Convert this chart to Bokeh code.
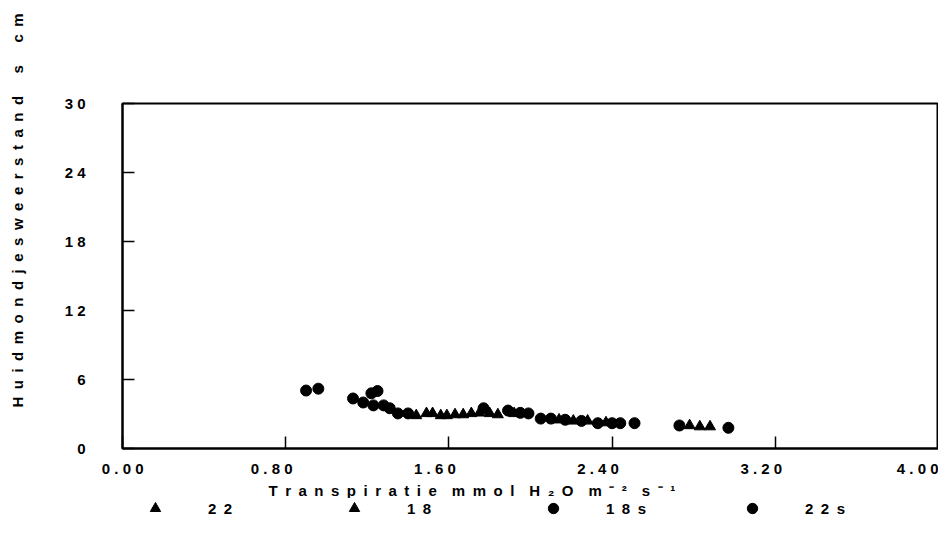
from bokeh.plotting import figure
from bokeh.layouts import column, row
from bokeh.models import (Range1d, FixedTicker, LinearAxis, Title, Label,
                          Legend, LegendItem)
from bokeh.embed import file_html
from bokeh.resources import INLINE
import math

# ---------------- data ----------------
x_ticks = [0.0, 0.8, 1.6, 2.4, 3.2, 4.0]
x_tick_labels = ["0.00", "0.80", "1.60", "2.40", "3.20", "4.00"]
y_ticks = [0, 6, 12, 18, 24, 30]
y_tick_labels = ["0", "6", "12", "18", "24", "30"]

series_names = ["22", "18", "18s", "22s"]
series_markers = ["triangle", "triangle", "circle", "circle"]

x_22 = [1.44, 1.52, 1.59, 1.67, 1.75, 1.84, 2.14, 2.28, 2.78, 2.88]
y_22 = [2.87, 3.05, 2.87, 2.95, 3.10, 2.95, 2.50, 2.40, 2.00, 1.90]

x_18 = [1.49, 1.56, 1.63, 1.71, 1.80, 1.92, 2.21, 2.37, 2.83]
y_18 = [3.05, 2.87, 2.95, 3.05, 3.05, 3.05, 2.40, 2.25, 1.90]

x_18s = [0.90, 1.13, 1.25, 1.28, 1.35, 1.77, 1.95, 2.05, 2.17, 2.33, 2.44, 2.73]
y_18s = [5.04, 4.35, 5.00, 3.75, 3.05, 3.50, 3.10, 2.60, 2.50, 2.20, 2.20, 2.00]

x_22s = [0.96, 1.18, 1.22, 1.23, 1.31, 1.40, 1.89, 1.99, 2.10, 2.25, 2.40, 2.51, 2.97]
y_22s = [5.20, 4.00, 4.80, 3.75, 3.50, 3.05, 3.30, 3.05, 2.60, 2.40, 2.20, 2.20, 1.80]

x_title = "Transpiratie mmol H\u2082O m\u207b\u00b2 s\u207b\u00b9"
y_title = "Huidmondjesweerstand s cm"

FONT = "Liberation Sans"
FS = "15px"


def spaced(s, gap=" ", word_gap=3):
    # imitate the wide letter spacing of the original print
    words = s.split(" ")
    return (gap * word_gap).join(gap.join(w) for w in words)


LEFT_W = 30     # strip holding the vertical axis title
TOTAL_H = 538

# ---------------- main figure ----------------
p = figure(frame_width=816, frame_height=345, output_backend="svg", toolbar_location=None,
           x_range=Range1d(0, 4), y_range=Range1d(0, 30),
           min_border_left=122 - LEFT_W, min_border_right=0, min_border_top=103,
           min_border_bottom=0)
p.background_fill_color = "white"
p.border_fill_color = "white"
p.outline_line_color = "black"
p.outline_line_width = 2
p.grid.visible = False

# primary x axis: inward tick marks only
p.xaxis.ticker = FixedTicker(ticks=[], minor_ticks=x_ticks)
p.xaxis.minor_tick_in = 12
p.xaxis.minor_tick_out = 0
p.xaxis.minor_tick_line_width = 1.5
p.xaxis.minor_tick_line_color = "black"
p.xaxis.axis_line_width = 2
p.xaxis.major_label_standoff = 0

# label axis, shifted slightly left as in the print
shift = 14 / 204.0
p.extra_x_ranges = {"lab": Range1d(shift, 4 + shift)}
lab_ticks = [shift + 0.001] + x_ticks[1:]
lab_axis = LinearAxis(x_range_name="lab", ticker=FixedTicker(ticks=lab_ticks),
                      major_label_overrides={t: spaced(l) for t, l in zip(lab_ticks, x_tick_labels)},
                      axis_line_color=None, major_tick_line_color=None,
                      minor_tick_line_color=None, major_label_standoff=5,
                      major_label_text_font=FONT, major_label_text_font_style="bold",
                      major_label_text_font_size=FS, major_label_text_color="black")
p.add_layout(lab_axis, "below")

p.yaxis.ticker = FixedTicker(ticks=y_ticks)
p.yaxis.major_label_overrides = {t: spaced(l) for t, l in zip(y_ticks, y_tick_labels)}
p.yaxis.major_tick_in = 12
p.yaxis.major_tick_out = 0
p.yaxis.minor_tick_line_color = None
p.yaxis.axis_line_width = 2
p.yaxis.major_tick_line_width = 1.5
p.yaxis.major_label_standoff = 37
p.yaxis.major_label_text_font = FONT
p.yaxis.major_label_text_font_style = "bold"
p.yaxis.major_label_text_font_size = FS
p.yaxis.major_label_text_color = "black"

# x axis title
p.add_layout(Title(text=spaced(x_title, "\u2002", 2), align="left", offset=146, standoff=0,
                   text_font=FONT, text_font_style="bold", text_font_size=FS,
                   text_color="black"), "below")

# ---------------- data points ----------------
r22 = p.scatter(x_22, y_22, marker="triangle", size=11, color="black")
r18 = p.scatter(x_18, y_18, marker="triangle", size=11, color="black")
r18s = p.scatter(x_18s, y_18s, marker="circle", size=11, color="black")
r22s = p.scatter(x_22s, y_22s, marker="circle", size=11, color="black")

# ---------------- legend row ----------------
lg = figure(frame_width=938 - LEFT_W, frame_height=40, output_backend="svg",
            toolbar_location=None, x_range=Range1d(0, 1), y_range=Range1d(0, 1),
            min_border_left=0, min_border_right=0, min_border_top=0, min_border_bottom=0)
lg.axis.visible = False
lg.grid.visible = False
lg.outline_line_color = None
lg.background_fill_color = "white"
lg.border_fill_color = "white"

# proxies carrying the series (their points fall outside this strip's ranges)
proxies = [lg.scatter(xs, ys, marker=m, size=11, color="black")
           for xs, ys, m in zip([x_22, x_18, x_18s, x_22s], [y_22, y_18, y_18s, y_22s],
                                series_markers)]
legend = Legend(items=[LegendItem(label=spaced(n, "\u2002"), renderers=[r])
                       for n, r in zip(series_names, proxies)],
                orientation="horizontal", location=(142 - LEFT_W, 17),
                glyph_width=26, glyph_height=26, label_standoff=40,
                label_width=133, spacing=0, padding=0, margin=0,
                border_line_color=None, background_fill_alpha=0,
                label_text_font=FONT, label_text_font_style="bold",
                label_text_font_size=FS, label_text_color="black")
lg.add_layout(legend, "center")

# ---------------- vertical axis title strip ----------------
yt = figure(frame_width=LEFT_W, frame_height=TOTAL_H, output_backend="svg",
            toolbar_location=None, x_range=Range1d(0, LEFT_W), y_range=Range1d(0, TOTAL_H),
            min_border_left=0, min_border_right=0, min_border_top=0, min_border_bottom=0)
yt.axis.visible = False
yt.grid.visible = False
yt.outline_line_color = None
yt.background_fill_color = "white"
yt.border_fill_color = "white"
yt.add_layout(Label(x=17, y=TOTAL_H - 210, text=spaced(y_title, "\u2002"), angle=math.pi / 2,
                    text_align="center", text_baseline="middle",
                    text_font=FONT, text_font_style="bold", text_font_size=FS,
                    text_color="black"))

page = row(yt, column(p, lg, spacing=0), spacing=0)
open("out.html", "w").write(file_html(page, INLINE))
